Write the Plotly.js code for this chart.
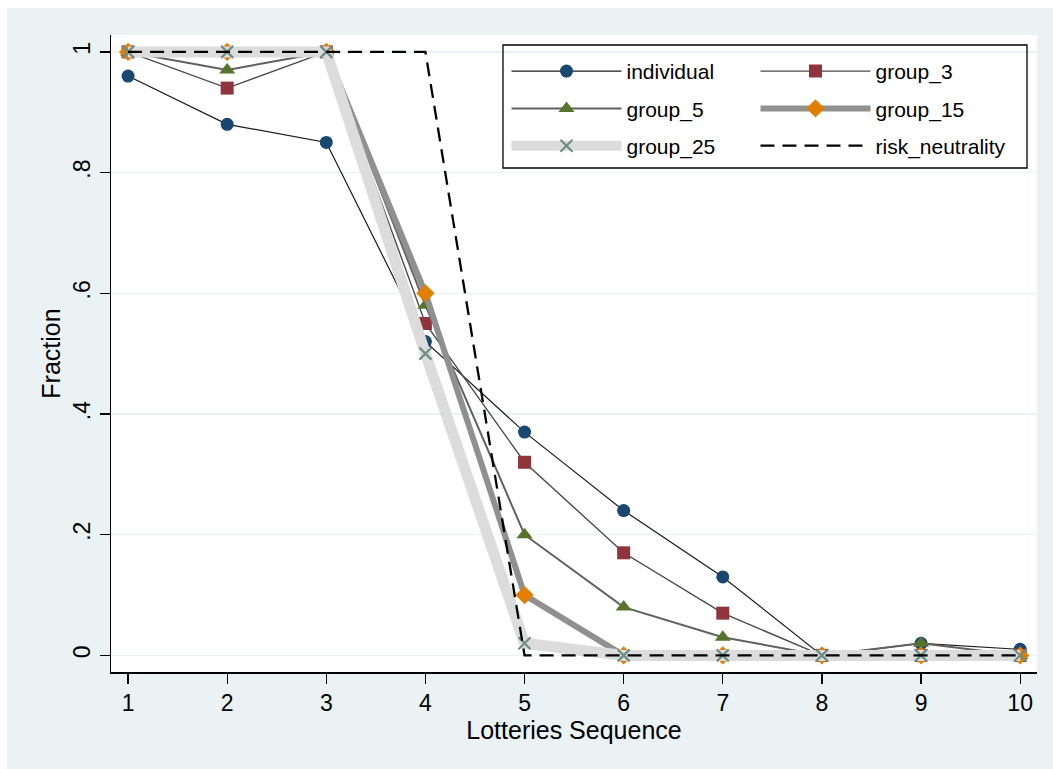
<!DOCTYPE html>
<html>
<head>
<meta charset="utf-8">
<script src="https://cdn.plot.ly/plotly-3.0.1.min.js"></script>
<style>html,body{margin:0;padding:0;background:#fff;} #chart{width:1053px;height:769px;}</style>
</head>
<body>
<div id="chart"></div>
<script>
// ---- data ----
var lotteries = [1, 2, 3, 4, 5, 6, 7, 8, 9, 10];
var individual = [0.96, 0.88, 0.85, 0.52, 0.37, 0.24, 0.13, 0, 0.02, 0.01];
var group_3 = [1, 0.94, 1, 0.55, 0.32, 0.17, 0.07, 0, 0, 0];
var group_5 = [1, 0.97, 1, 0.58, 0.20, 0.08, 0.03, 0, 0.02, 0];
var group_15 = [1, 1, 1, 0.60, 0.10, 0, 0, 0, 0, 0];
var group_25 = [1, 1, 1, 0.50, 0.02, 0, 0, 0, 0, 0];
var risk_neutrality = [1, 1, 1, 1, 0, 0, 0, 0, 0, 0];
var yTickVals = [0, 0.2, 0.4, 0.6, 0.8, 1];
var yTickText = ['0', '.2', '.4', '.6', '.8', '1'];

var FONT = 'Liberation Sans, Arial, Helvetica, sans-serif';

var traces = [
  {x: lotteries, y: individual, name: 'individual', legend: 'legend', legendgroup: 'a',
   mode: 'lines+markers', line: {color: '#1a1a1a', width: 1.2},
   marker: {symbol: 'circle', size: 13, color: '#1A476F', line: {width: 0}}},
  {x: lotteries, y: group_3, name: 'group_3', legend: 'legend2', legendgroup: 'b',
   mode: 'lines+markers', line: {color: '#4a4a4a', width: 1.4},
   marker: {symbol: 'square', size: 13, color: '#90353B', line: {width: 0}}},
  {x: lotteries, y: group_5, name: 'group_5', legend: 'legend', legendgroup: 'c',
   mode: 'lines+markers', line: {color: '#606060', width: 2},
   marker: {symbol: 'triangle-up', size: 14, color: '#55752F', line: {width: 0}}},
  {x: lotteries, y: group_15, name: 'group_15', legend: 'legend2', legendgroup: 'd',
   mode: 'lines+markers', line: {color: '#909090', width: 6},
   marker: {symbol: 'diamond', size: 14, color: '#E37E00', line: {width: 0}}},
  {x: lotteries, y: group_25, name: 'group_25', legend: 'legend', legendgroup: 'e',
   mode: 'lines+markers', line: {color: '#DCDCDC', width: 11},
   marker: {symbol: 'x-thin', size: 12, color: '#6E8E84', line: {width: 2.2, color: '#6E8E84'}}},
  {x: lotteries, y: risk_neutrality, name: 'risk_neutrality', legend: 'legend2', legendgroup: 'f',
   mode: 'lines', line: {color: '#000000', width: 2.3, dash: '14px,8px'}}
];

var legendCommon = {
  bgcolor: 'rgba(0,0,0,0)', borderwidth: 0, font: {family: FONT, size: 21, color: '#000'},
  tracegroupgap: 7, itemwidth: 110, yanchor: 'top', xanchor: 'left', orientation: 'v',
  itemclick: false, itemdoubleclick: false
};

var layout = {
  width: 1053, height: 769,
  margin: {l: 111, r: 16, t: 35, b: 97, pad: 0},
  paper_bgcolor: '#EAF2F3',
  plot_bgcolor: '#FFFFFF',
  font: {family: FONT, color: '#000'},
  showlegend: true,
  legend: Object.assign({}, legendCommon, {x: 0.4271, y: 0.975}),
  legend2: Object.assign({}, legendCommon, {x: 0.6960, y: 0.975}),
  xaxis: {
    range: [0.828, 10.17], tickvals: lotteries, ticks: 'outside', ticklen: 10, tickwidth: 1.3,
    tickcolor: '#000', showline: true, linecolor: '#000', linewidth: 1.5, showgrid: false,
    zeroline: false, tickfont: {family: FONT, size: 23, color: '#000'},
    title: {text: 'Lotteries Sequence', font: {family: FONT, size: 25, color: '#000'}, standoff: 3}
  },
  yaxis: {
    range: [-0.0275, 1.028], tickvals: yTickVals, ticktext: yTickText, ticks: 'outside', ticklen: 10,
    tickwidth: 1.3, tickcolor: '#000', showline: true, linecolor: '#000', linewidth: 1.5,
    showgrid: true, gridcolor: '#EAF2F3', gridwidth: 1.5, zeroline: false, tickangle: -90,
    tickfont: {family: FONT, size: 23, color: '#000'},
    title: {text: 'Fraction', font: {family: FONT, size: 25, color: '#000'}, standoff: 1}
  },
  shapes: [
    {type: 'rect', xref: 'paper', yref: 'paper', x0: -0.2, x1: 1.1, y0: 1.0424, y1: 1.2,
     fillcolor: '#FFFFFF', line: {width: 0}, layer: 'below'},
    {type: 'rect', xref: 'paper', yref: 'paper', x0: -0.2, x1: -0.1123, y0: -0.2, y1: 1.2,
     fillcolor: '#FFFFFF', line: {width: 0}, layer: 'below'},
    {type: 'rect', xref: 'paper', yref: 'paper', x0: 0.4233, x1: 0.9892, y0: 0.7912, y1: 0.9843,
     fillcolor: 'rgba(0,0,0,0)', line: {width: 1.3, color: '#000'}, layer: 'above'}
  ]
};

Plotly.newPlot('chart', traces, layout, {displayModeBar: false, staticPlot: true});
</script>
</body>
</html>
